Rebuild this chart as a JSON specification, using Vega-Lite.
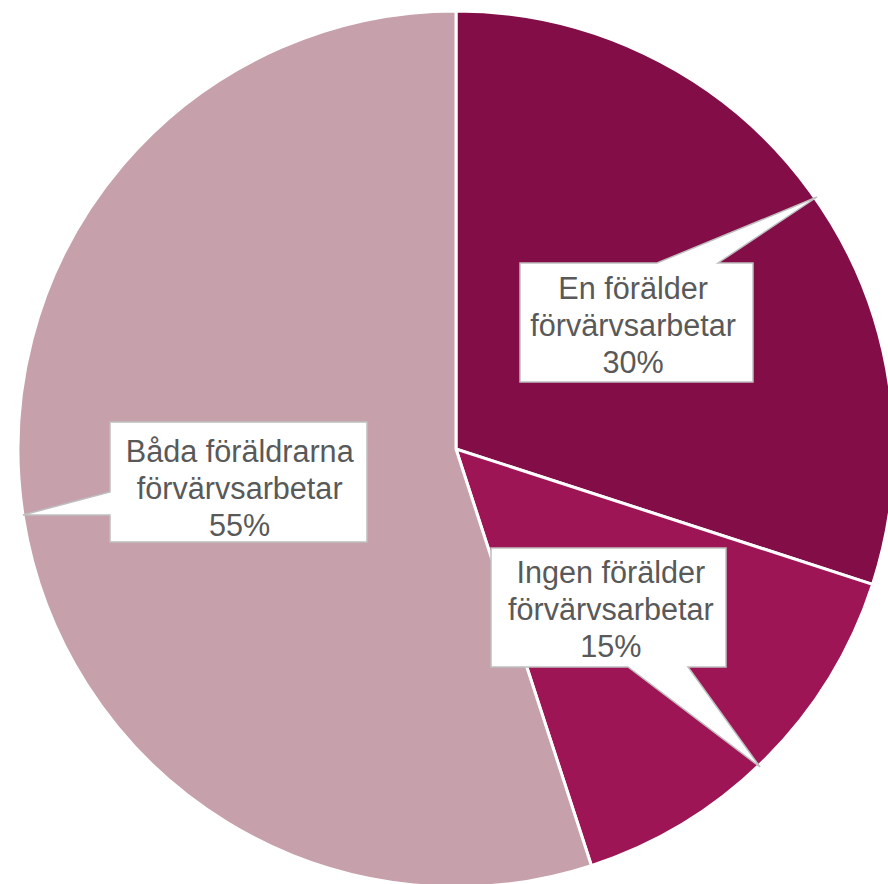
{
  "$schema": "https://vega.github.io/schema/vega-lite/v6.json",
  "autosize": {"type": "none"},
  "width": 876,
  "height": 876,
  "padding": {"left": 18, "top": 11, "right": 0, "bottom": 0},
  "background": "white",
  "view": {"stroke": null},
  "data": {
    "values": [
      {"nr": 1, "grupp": "En förälder förvärvsarbetar", "andel": 30, "etikett": "En förälder\nförvärvsarbetar\n30%"},
      {"nr": 2, "grupp": "Ingen förälder förvärvsarbetar", "andel": 15, "etikett": "Ingen förälder\nförvärvsarbetar\n15%"},
      {"nr": 3, "grupp": "Båda föräldrarna förvärvsarbetar", "andel": 55, "etikett": "Båda föräldrarna\nförvärvsarbetar\n55%"}
    ]
  },
  "encoding": {
    "theta": {"field": "andel", "type": "quantitative", "stack": true},
    "order": {"field": "nr", "type": "quantitative"}
  },
  "layer": [
    {
      "mark": {"type": "arc", "outerRadius": 438, "stroke": "white", "strokeWidth": 3},
      "encoding": {
        "color": {
          "field": "grupp",
          "type": "nominal",
          "legend": null,
          "scale": {
            "domain": ["En förälder förvärvsarbetar", "Ingen förälder förvärvsarbetar", "Båda föräldrarna förvärvsarbetar"],
            "range": ["#820D47", "#9E1556", "#C6A0AB"]
          }
        }
      }
    },
    {
      "mark": {"type": "point", "filled": true, "fill": "white", "fillOpacity": 1, "opacity": 1, "stroke": "#BFBFBF", "strokeWidth": 1.5, "size": 4},
      "encoding": {
        "shape": {
          "field": "grupp",
          "type": "nominal",
          "legend": null,
          "scale": {
            "domain": ["En förälder förvärvsarbetar", "Ingen förälder förvärvsarbetar", "Båda föräldrarna förvärvsarbetar"],
            "range": [
              "M64,-186 L201,-186 L361,-252 L262,-186 L297,-186 L297,-67 L64,-67 Z",
              "M35,99 L270,99 L270,218 L232,218 L304,318 L172,218 L35,218 Z",
              "M-346,-27 L-89,-27 L-89,93 L-346,93 L-346,66 L-433,66 L-346,43 Z"
            ]
          }
        }
      }
    },
    {
      "mark": {"type": "text", "radius": 219, "dy": -30, "font": "Liberation Sans", "fontSize": 30.6, "lineHeight": 37, "lineBreak": "\n", "align": "center", "baseline": "middle", "color": "#595959"},
      "encoding": {
        "text": {"field": "etikett", "type": "nominal"}
      }
    }
  ]
}
